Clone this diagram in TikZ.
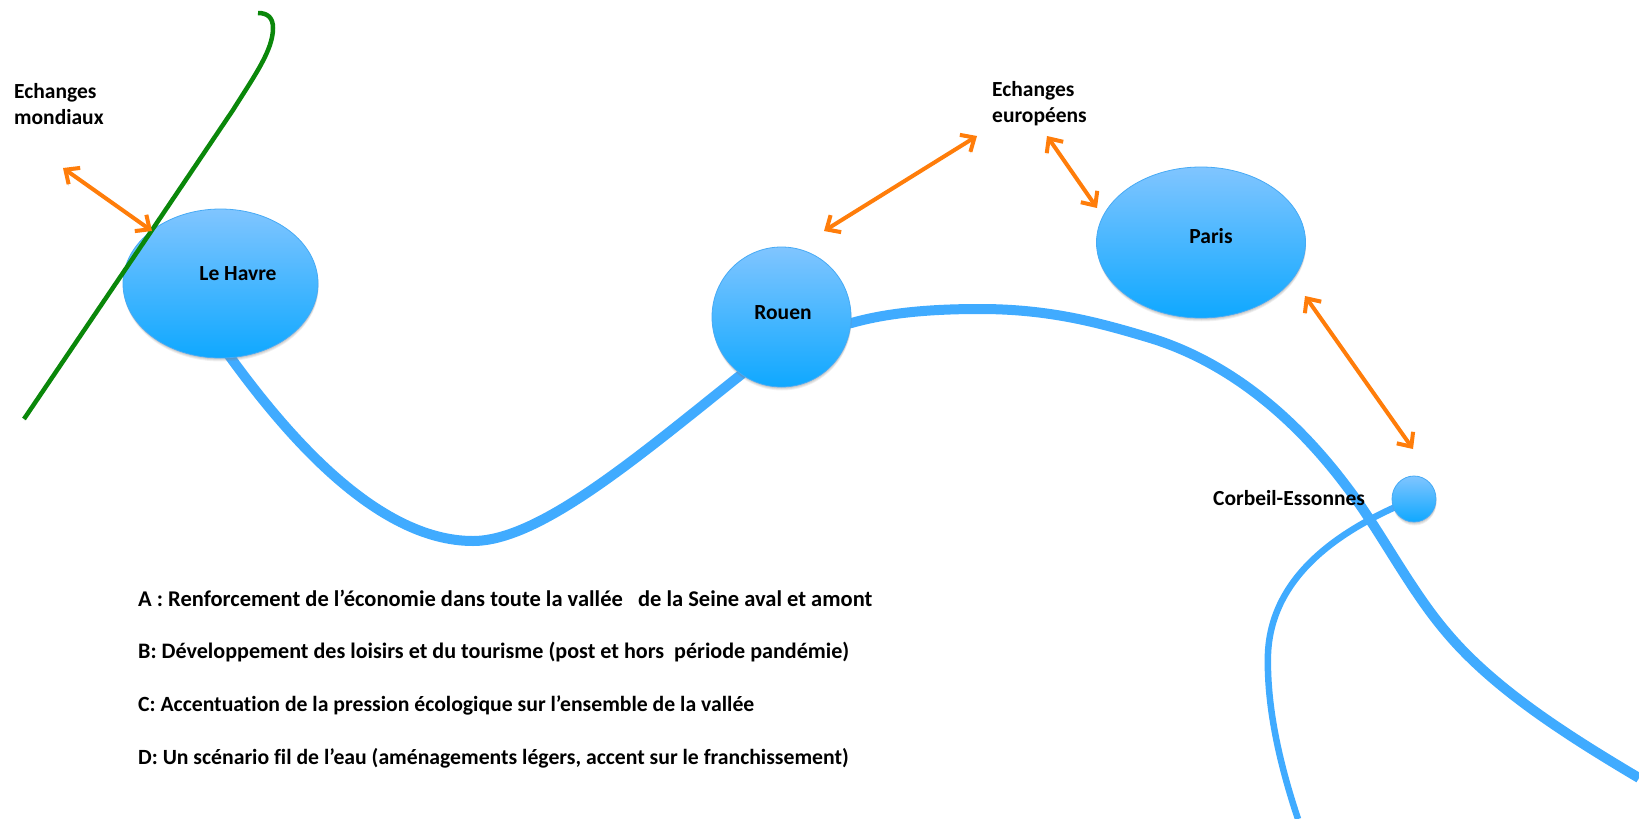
\documentclass[tikz,border=0pt]{standalone}
\usepackage{fontspec}
\setmainfont[RawFeature={-liga}]{Carlito}
\usetikzlibrary{arrows.meta,shadows,backgrounds,shapes.geometric}
\definecolor{riverblue}{RGB}{64,171,255}
\definecolor{topblue}{RGB}{128,197,255}
\definecolor{botblue}{RGB}{15,168,255}
\definecolor{edgeblue}{RGB}{70,170,245}
\definecolor{arroworange}{RGB}{255,125,10}
\definecolor{lineGreen}{RGB}{10,135,10}
\tikzset{
  x=1pt,y=-1pt,
  city/.style={ellipse,draw=edgeblue,line width=0.8pt,top color=topblue,bottom color=botblue,inner sep=0pt,
     drop shadow={shadow xshift=0.5pt,shadow yshift=-3.5pt,opacity=0.12},
     drop shadow={shadow xshift=0.5pt,shadow yshift=-2.5pt,opacity=0.15},
     drop shadow={shadow xshift=0.3pt,shadow yshift=-1.5pt,opacity=0.2}},
  lab/.style={font=\bfseries\fontsize{21.5}{26}\selectfont,text=black,inner sep=0pt,align=left},
  legend/.style={text=black,inner sep=0pt,anchor=base west},
  softshadow/.style={preaction={draw=black,draw opacity=0.16,transform canvas={yshift=-1.5pt}}},
  river/.style={draw=riverblue,line width=10pt,softshadow},
  branch/.style={draw=riverblue,line width=6.5pt,softshadow},
  coast/.style={draw=lineGreen,line width=4.5pt,softshadow},
  flow/.style={draw=arroworange,line width=4pt,softshadow,{Straight Barb[length=11pt,width=20pt,line width=4pt]}-{Straight Barb[length=11pt,width=20pt,line width=4pt]}}
}
\begin{document}
\begin{tikzpicture}
\useasboundingbox (0,0) rectangle (1639,819);
% cities
\node[city,minimum width=195pt,minimum height=149pt] (havre) at (220.5,283.5) {};
\node[city,minimum width=139pt,minimum height=140pt] (rouen) at (781.5,317) {};
\node[city,minimum width=209pt,minimum height=151pt] (paris) at (1201,242.5) {};
\node[city,minimum width=44pt,minimum height=46pt] (corbeil) at (1414,499) {};
% free ends
\coordinate (seineEnd) at (1639,778);
\coordinate (branchEnd) at (1298,819);
\coordinate (coastA) at (24,419);
\coordinate (coastB) at (258,13);
\coordinate (wm) at (63,168);
\coordinate (wh) at (152,231);
\coordinate (e1) at (977,136);
\coordinate (r1) at (824,231);
\coordinate (e2) at (1047,136);
\coordinate (p1) at (1097,208);
\coordinate (p2) at (1305,296);
\coordinate (c1) at (1413,449);
% rivers behind the cities
\begin{scope}[on background layer]
\draw[river] (havre.center) -- (228,354) .. controls (283,430) and (375,541) .. (473,541)
   .. controls (540,541) and (640,455) .. (rouen.235) -- (rouen.center);
\draw[river] (rouen.center) -- (rouen.-5) .. controls (890,312) and (935,309) .. (980,309)
   .. controls (1050,309) and (1100,323) .. (1147,337)
   .. controls (1205,354) and (1278,395) .. (1347,487)
   .. controls (1380,530) and (1410,590) .. (1447,633)
   .. controls (1495,690) and (1570,737) .. (seineEnd);
\draw[branch] (corbeil.center) .. controls (1350,525) and (1272,570) .. (1268,653)
   .. controls (1266,715) and (1285,780) .. (branchEnd);
\end{scope}
% coast
\draw[coast] (coastA) -- (150,233) -- (233,110)
   .. controls (255,75) and (273,50) .. (273,28)
   .. controls (273,18) and (268,13) .. (coastB);
% exchanges
\draw[flow] (wm) -- (wh);
\draw[flow] (r1) -- (e1);
\draw[flow] (e2) -- (p1);
\draw[flow] (p2) -- (c1);
% labels
\node[lab,anchor=center] (lhLabel) at (238,274) {Le Havre};
\node[lab,anchor=center] (rLabel) at (783,313) {Rouen};
\node[lab,anchor=center] (pLabel) at (1211,236) {Paris};
\node[lab,anchor=west] (cLabel) at (1213,498) {Corbeil-Essonnes};
\node[lab,anchor=west] (em) at (14,104) {Echanges\\mondiaux};
\node[lab,anchor=west] (ee) at (992,104) {Echanges\\européens};
\node[legend,font=\bfseries\fontsize{22.5}{26}\selectfont] (la) at (138,606) {A : Renforcement de l’économie dans toute la vallée \ \ de la Seine aval et amont};
\node[legend,font=\bfseries\fontsize{22.1}{26}\selectfont] (lb) at (138,658) {B: Développement des loisirs et du tourisme (post et hors \ période pandémie)};
\node[legend,font=\bfseries\fontsize{21.7}{26}\selectfont] (lc) at (138,711) {C: Accentuation de la pression écologique sur l’ensemble de la vallée};
\node[legend,font=\bfseries\fontsize{21.7}{26}\selectfont] (ld) at (138,764) {D: Un scénario fil de l’eau (aménagements légers, accent sur le franchissement)};
\end{tikzpicture}
\end{document}
